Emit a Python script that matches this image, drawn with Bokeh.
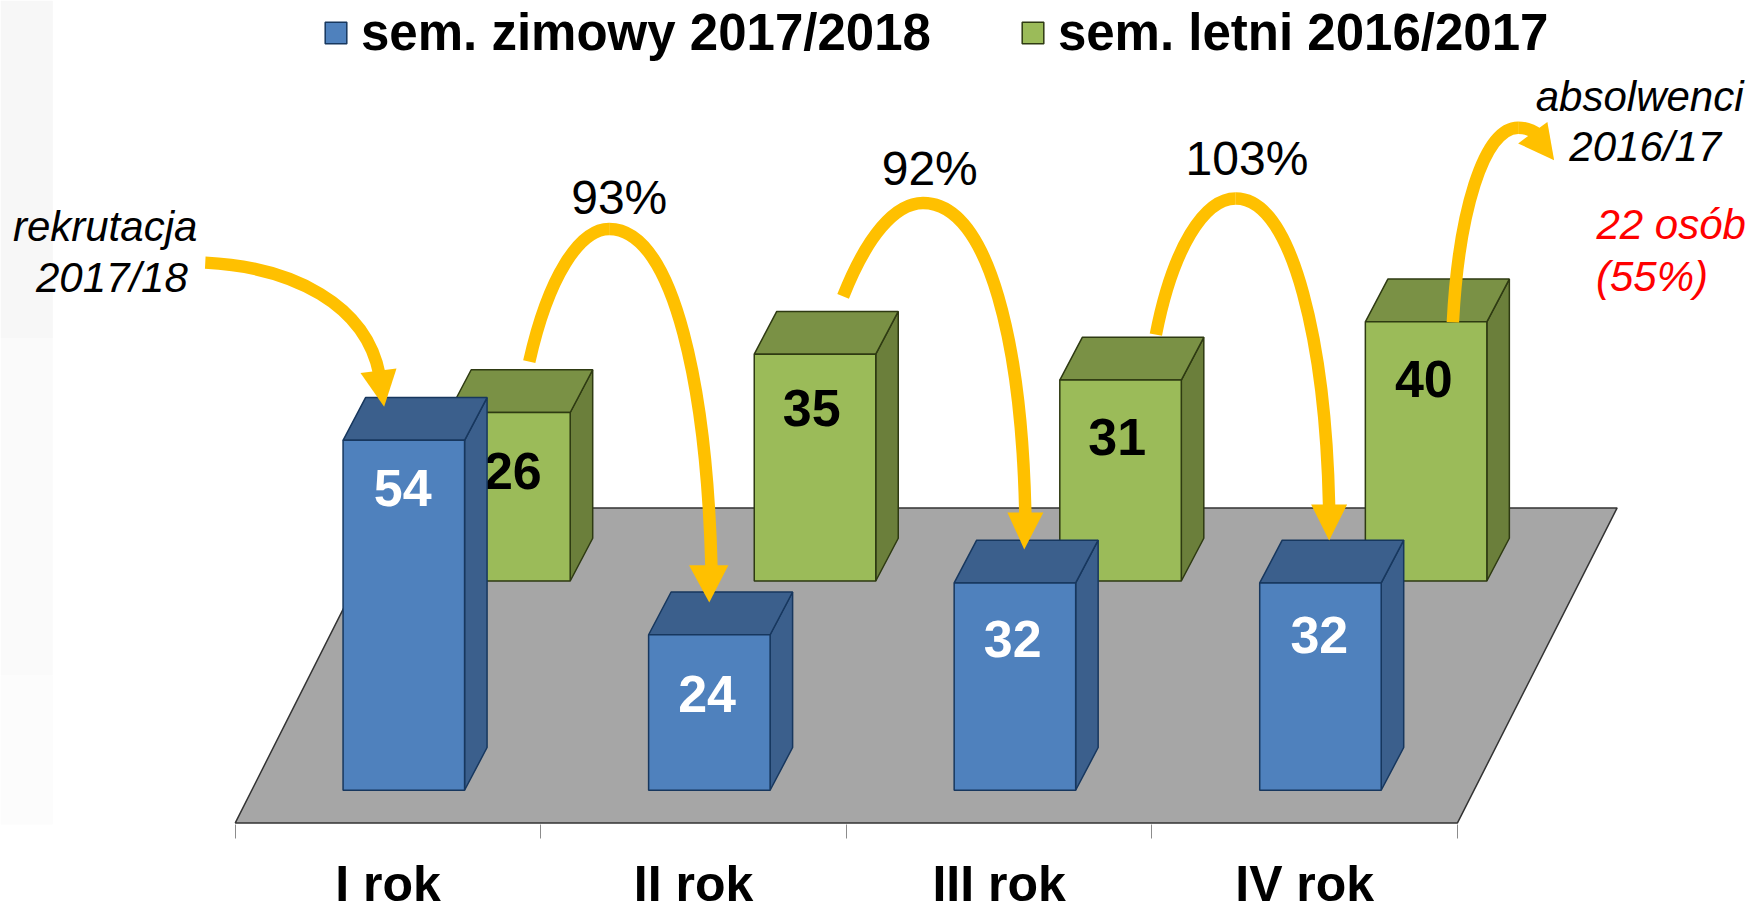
from bokeh.plotting import figure
from bokeh.embed import file_html
from bokeh.resources import INLINE
from bokeh.models import FixedTicker, Legend, LegendItem, LinearAxis, Range1d
from bokeh.core.properties import value

# ---- data -------------------------------------------------------------
years = ["I rok", "II rok", "III rok", "IV rok"]
winter = [54, 24, 32, 32]
summer = [26, 35, 31, 40]
winter_name = "sem. zimowy 2017/2018"
summer_name = "sem. letni 2016/2017"
rates = ["93%", "92%", "103%"]

# ---- colours ----------------------------------------------------------
BLUE, BLUE_D, BLUE_L = "#4F81BD", "#3B5F8C", "#17375E"
GREEN, GREEN_T, GREEN_S, GREEN_L = "#9BBB59", "#7A9145", "#6B7F3B", "#2E3A12"
ARROW = "#FFC000"
FONT = "Liberation Sans"

# ---- geometry: the chart is an oblique 3-D projection -------------------
W, H = 1764, 909
K = 1.125                       # reference px per shrunk px
PX_X = 271.6 * K                # px per category
PX_Y = 6.48                     # px per unit of value
X0_PAGE = 208.7 * K             # page px of x = 0
Y0_PAGE = 702 * K               # page px of value = 0
FRAME_BOTTOM = 824              # page px

def sx(a):                      # shrunk-reference x -> data x
    return (a * K - X0_PAGE) / PX_X
def sy(b):                      # shrunk-reference y -> data y
    return (Y0_PAGE - b * K) / PX_Y

x_start = (0 - X0_PAGE) / PX_X
x_end = (W - X0_PAGE) / PX_X
y_start = (Y0_PAGE - FRAME_BOTTOM) / PX_Y
y_end = Y0_PAGE / PX_Y

BAR_W = 108 / 271.6
DX, DY = 20 / 271.6, 38 * K / PX_Y     # depth of a bar
BLUE_OFF = (304.5 - 208.7) / 271.6
GREEN_OFF = (398.4 - 208.7) / 271.6
GREEN_BASE = sy(516)

p = figure(width=W, height=H, frame_width=W, frame_height=FRAME_BOTTOM,
           output_backend="svg", toolbar_location=None,
           x_range=Range1d(x_start, x_end), y_range=Range1d(y_start, y_end),
           min_border_left=0, min_border_right=0, min_border_top=0,
           min_border_bottom=H - FRAME_BOTTOM, outline_line_color=None,
           x_axis_location=None, y_axis_location=None)
p.grid.visible = False

# faint strip on the left edge
for b0, b1, c in [(0, 300, "#F7F7F7"), (300, 600, "#FAFAFA"), (600, 740, "#FCFCFC")]:
    p.quad(left=[x_start], right=[sx(46.5)], bottom=[sy(b1)], top=[sy(b0)],
           fill_color=c, line_color=None)

# floor
fy0, fy1 = sy(731), sy(451)
p.patch([0, 4, sx(1437), sx(350)], [fy0, fy0, fy1, fy1],
        fill_color="#A6A6A6", line_color="#333333", line_width=1.5)

def bars(off, base, vals, front, top_c, side_c, edge):
    lefts = [i + off for i in range(len(vals))]
    rights = [l + BAR_W for l in lefts]
    tops = [base + v for v in vals]
    p.patches([[r, r + DX, r + DX, r] for r in rights],
              [[base, base + DY, t + DY, t] for t in tops],
              fill_color=side_c, line_color=edge, line_width=1.5)
    p.patches([[l, r, r + DX, l + DX] for l, r in zip(lefts, rights)],
              [[t, t, t + DY, t + DY] for t in tops],
              fill_color=top_c, line_color=edge, line_width=1.5)
    return p.quad(left=lefts, right=rights, bottom=base, top=tops,
                  fill_color=front, line_color=edge, line_width=1.5)

def labels(off, base, vals, dxs, dys, colour):
    p.text(x=[i + off + BAR_W / 2 + d * K / PX_X for i, d in enumerate(dxs)],
           y=[base + v - d * K / PX_Y for v, d in zip(vals, dys)],
           text=[str(v) for v in vals], text_color=colour,
           text_font=value(FONT), text_font_style="bold", text_font_size="52px",
           text_align="center", text_baseline="middle")

green_r = bars(GREEN_OFF, GREEN_BASE, summer, GREEN, GREEN_T, GREEN_S, GREEN_L)
labels(GREEN_OFF, GREEN_BASE, summer, [3, -3, -3, -2], [52, 48, 51, 51], "black")
blue_r = bars(BLUE_OFF, 0, winter, BLUE, BLUE_D, BLUE_D, BLUE_L)
labels(BLUE_OFF, 0, winter, [-1, -2, -2, -1], [42, 53, 50, 46], "white")

# arrows: (start, control, control, end) in shrunk-reference pixels
curves = [
    (182, 233, 260, 237, 325, 270, 337, 333),
    (470, 321, 487, 245, 515, 203, 541, 203),
    (541, 203, 600, 203, 628, 350, 632, 505),
    (749, 263, 770, 210, 795, 180, 820, 180),
    (820, 180, 880, 180, 908, 310, 911, 458),
    (1027, 297, 1042, 220, 1070, 176, 1098, 176),
    (1098, 176, 1150, 176, 1178, 310, 1181, 450),
    (1291, 286, 1296, 190, 1318, 113, 1349, 113),
    (1349, 113, 1358, 113, 1363, 116, 1368, 120),
]
for c in curves:
    p.bezier(x0=[sx(c[0])], y0=[sy(c[1])], cx0=[sx(c[2])], cy0=[sy(c[3])],
             cx1=[sx(c[4])], cy1=[sy(c[5])], x1=[sx(c[6])], y1=[sy(c[7])],
             line_color=ARROW, line_width=12.5)
heads = [
    [(320, 331), (352, 327), (341, 361)],
    [(612, 502), (647, 502), (630, 535)],
    [(895, 455), (927, 455), (910, 488)],
    [(1165, 448), (1197, 448), (1181, 480)],
    [(1375, 108), (1349, 127), (1381, 142)],
]
p.patches([[sx(a) for a, _ in h] for h in heads],
          [[sy(b) for _, b in h] for h in heads],
          fill_color=ARROW, line_color=None)

# free texts
def txt(a, b, s, size, colour="black", style="normal", align="center"):
    p.text(x=[sx(a)], y=[sy(b)], text=[s], text_color=colour, text_font=value(FONT),
           text_font_size=size, text_font_style=style,
           text_align=align, text_baseline="middle")

for (a, b), s in zip([(550, 175), (826, 149), (1108, 140)], rates):
    txt(a, b, s, "48px")
txt(93, 201, "rekrutacja", "42px", style="italic")
txt(99, 246, "2017/18", "42px", style="italic")
txt(1457, 85, "absolwenci", "42px", style="italic")
txt(1462, 130, "2016/17", "42px", style="italic")
txt(1485, 199, "22 osób", "42px", "#FF0000", "italic")
txt(1468, 245, "(55%)", "42px", "#FF0000", "italic")

# category axis: labels on the centres, tick marks on the boundaries
ax = LinearAxis(ticker=FixedTicker(ticks=[i + 0.5 for i in range(4)], minor_ticks=list(range(5))),
                major_label_overrides={i + 0.5: y for i, y in enumerate(years)},
                axis_line_color=None, major_tick_out=0, major_tick_in=0,
                minor_tick_out=14, minor_tick_in=0, minor_tick_line_color="#8C8C8C",
                major_label_standoff=17, major_label_text_font=FONT,
                major_label_text_font_style="bold", major_label_text_font_size="50px",
                major_label_text_color="black")
p.add_layout(ax, "below")

legend = Legend(items=[LegendItem(label=winter_name, renderers=[blue_r]),
                       LegendItem(label=summer_name, renderers=[green_r])],
                orientation="horizontal", location=(322, 762), background_fill_alpha=0,
                border_line_color=None, label_text_font=FONT, label_text_font_style="bold",
                label_text_color="black", label_text_font_size="51px",
                glyph_width=27, glyph_height=27, spacing=88,
                label_standoff=12, margin=0, padding=0)
p.add_layout(legend, "center")

open("out.html", "w").write(file_html(p, INLINE))
